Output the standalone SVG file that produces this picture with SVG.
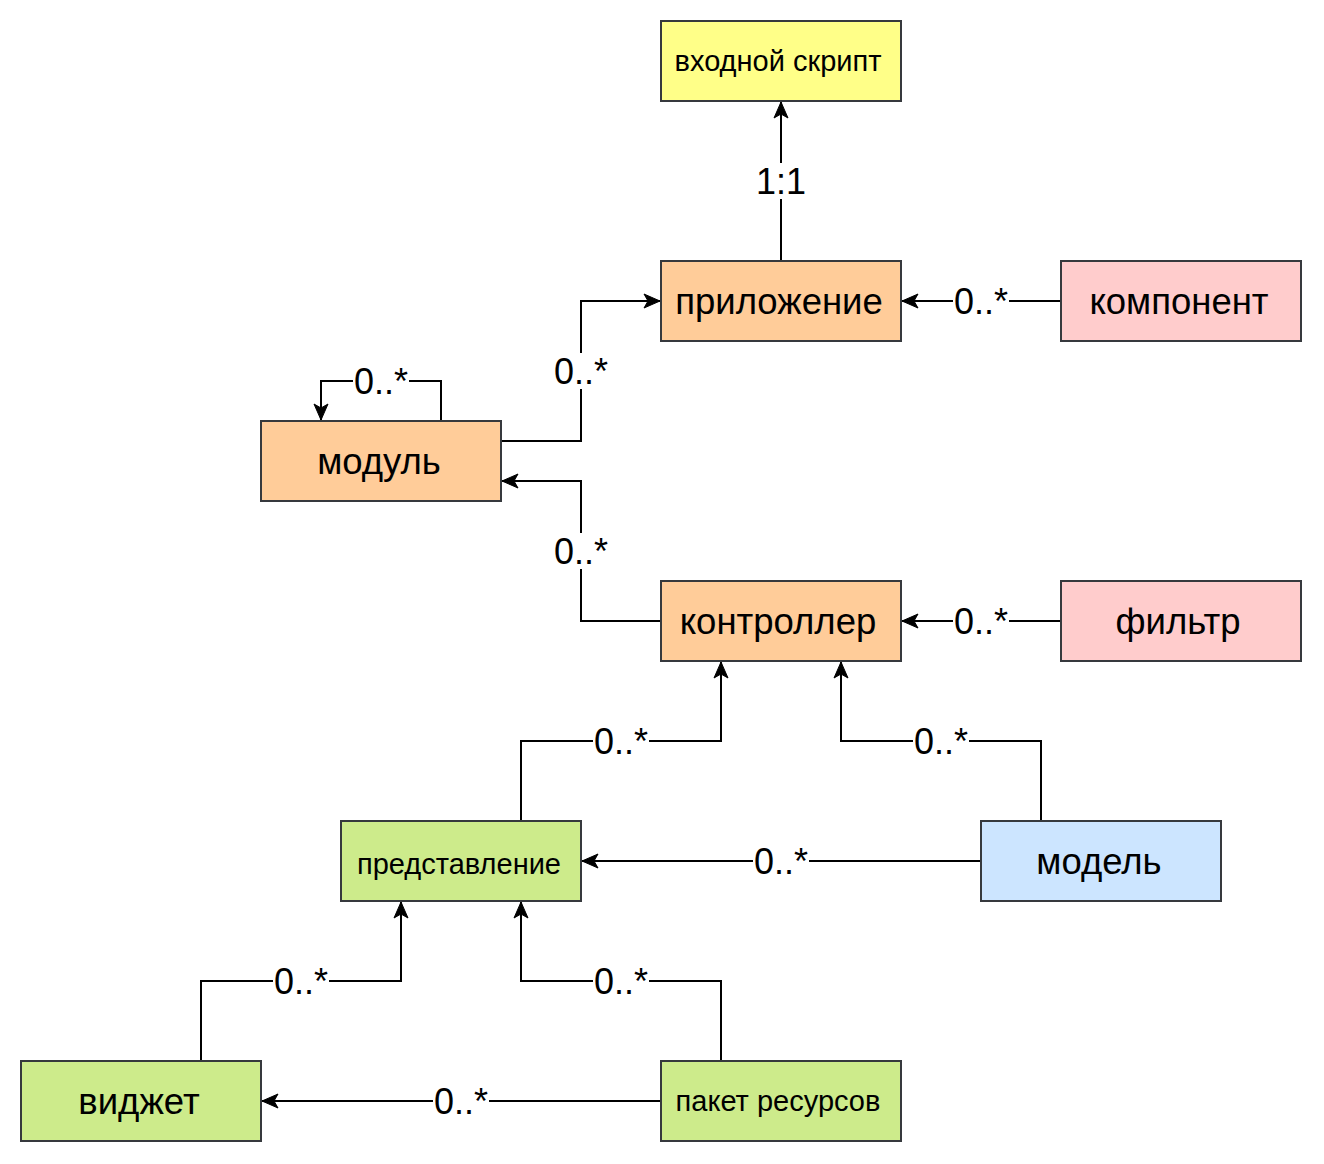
<svg xmlns="http://www.w3.org/2000/svg" width="1324" height="1164" viewBox="0 0 1324 1164">
<defs>
<style>
.n{stroke:#36393d;stroke-width:2}
.t{font-family:"Liberation Sans",Arial,sans-serif;fill:#000;text-anchor:middle}
.big{font-size:36.5px}
.sm{font-size:29px}
.e{fill:none;stroke:#000;stroke-width:2}
.lb{fill:#fff}
.l{font-family:"Liberation Sans",Arial,sans-serif;font-size:36px;fill:#000;text-anchor:middle}
</style>
<marker id="a" markerUnits="userSpaceOnUse" markerWidth="18" markerHeight="18" viewBox="0 0 18 18" refX="17" refY="9" orient="auto">
<path d="M1,2 L17,9 L1,16 L5,9 z" fill="#000" stroke="#000" stroke-width="1"/>
</marker>
</defs>
<rect width="1324" height="1164" fill="#fff"/>
<g id="connectors">
<path class="e" d="M781,261 V102" marker-end="url(#a)"/>
<path class="e" d="M1061,301 H902" marker-end="url(#a)"/>
<path class="e" d="M501,441 H581 V301 H660" marker-end="url(#a)"/>
<path class="e" d="M441,421 V381 H321 V420" marker-end="url(#a)"/>
<path class="e" d="M661,621 H581 V481 H502" marker-end="url(#a)"/>
<path class="e" d="M1061,621 H902" marker-end="url(#a)"/>
<path class="e" d="M521,821 V741 H721 V662" marker-end="url(#a)"/>
<path class="e" d="M1041,821 V741 H841 V662" marker-end="url(#a)"/>
<path class="e" d="M981,861 H582" marker-end="url(#a)"/>
<path class="e" d="M201,1061 V981 H401 V902" marker-end="url(#a)"/>
<path class="e" d="M721,1061 V981 H521 V902" marker-end="url(#a)"/>
<path class="e" d="M661,1101 H262" marker-end="url(#a)"/>
<g id="labels">
<rect class="lb" x="755" y="163" width="52" height="36"/><text class="l" x="781" y="194">1:1</text>
<rect class="lb" x="953" y="283" width="56" height="36"/><text class="l" x="981" y="314">0..*</text>
<rect class="lb" x="553" y="353" width="56" height="36"/><text class="l" x="581" y="384">0..*</text>
<rect class="lb" x="353" y="363" width="56" height="36"/><text class="l" x="381" y="394">0..*</text>
<rect class="lb" x="553" y="533" width="56" height="36"/><text class="l" x="581" y="564">0..*</text>
<rect class="lb" x="953" y="603" width="56" height="36"/><text class="l" x="981" y="634">0..*</text>
<rect class="lb" x="593" y="723" width="56" height="36"/><text class="l" x="621" y="754">0..*</text>
<rect class="lb" x="913" y="723" width="56" height="36"/><text class="l" x="941" y="754">0..*</text>
<rect class="lb" x="753" y="843" width="56" height="36"/><text class="l" x="781" y="874">0..*</text>
<rect class="lb" x="273" y="963" width="56" height="36"/><text class="l" x="301" y="994">0..*</text>
<rect class="lb" x="593" y="963" width="56" height="36"/><text class="l" x="621" y="994">0..*</text>
<rect class="lb" x="433" y="1083" width="56" height="36"/><text class="l" x="461" y="1114">0..*</text>
</g>
</g>
<g id="entry"><rect class="n" x="661" y="21" width="240" height="80" fill="#ffff88"/><text class="t sm" x="778" y="71">входной скрипт</text></g>
<g id="app"><rect class="n" x="661" y="261" width="240" height="80" fill="#ffcc99"/><text class="t big" x="779" y="314">приложение</text></g>
<g id="component"><rect class="n" x="1061" y="261" width="240" height="80" fill="#ffcccc"/><text class="t big" x="1179" y="314">компонент</text></g>
<g id="module"><rect class="n" x="261" y="421" width="240" height="80" fill="#ffcc99"/><text class="t big" x="379" y="474">модуль</text></g>
<g id="controller"><rect class="n" x="661" y="581" width="240" height="80" fill="#ffcc99"/><text class="t big" x="778" y="634">контроллер</text></g>
<g id="filter"><rect class="n" x="1061" y="581" width="240" height="80" fill="#ffcccc"/><text class="t big" x="1178" y="634">фильтр</text></g>
<g id="view"><rect class="n" x="341" y="821" width="240" height="80" fill="#cdeb8b"/><text class="t sm" x="459" y="874">представление</text></g>
<g id="model"><rect class="n" x="981" y="821" width="240" height="80" fill="#cce5ff"/><text class="t big" x="1099" y="874">модель</text></g>
<g id="widget"><rect class="n" x="21" y="1061" width="240" height="80" fill="#cdeb8b"/><text class="t big" x="139" y="1114">виджет</text></g>
<g id="bundle"><rect class="n" x="661" y="1061" width="240" height="80" fill="#cdeb8b"/><text class="t sm" x="778" y="1111">пакет ресурсов</text></g>
</svg>
